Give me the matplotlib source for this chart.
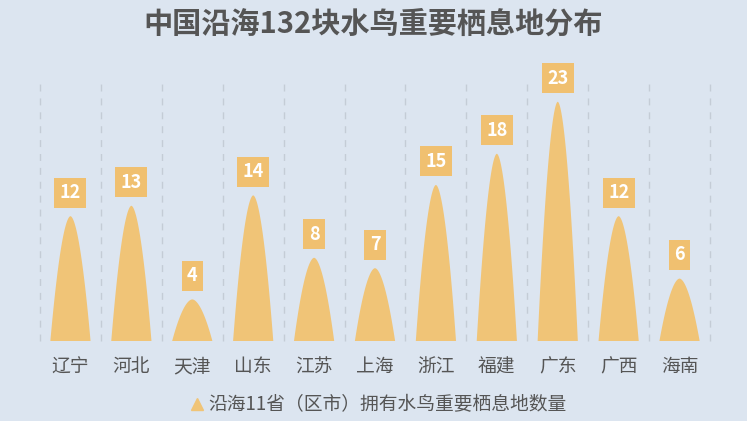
import matplotlib.pyplot as plt
import numpy as np
from matplotlib.lines import Line2D

plt.rcParams['font.family'] = ['Noto Sans CJK SC', 'DejaVu Sans']

provinces = ['辽宁', '河北', '天津', '山东', '江苏', '上海', '浙江', '福建', '广东', '广西', '海南']
counts = [12, 13, 4, 14, 8, 7, 15, 18, 23, 12, 6]

bg = '#dce5f0'
bar_color = '#f0c477'

fig = plt.figure(figsize=(7.47, 4.21), dpi=100, facecolor=bg)
ax = fig.add_axes([40 / 747, 80 / 421, 670 / 747, 260 / 421])
ax.set_facecolor(bg)

# peak shaped bars
half = 0.33
u = np.linspace(-1, 1, 200)
for i, v in enumerate(counts):
    xs = i + u * half
    ys = v * (1 - np.abs(u) ** 1.8)
    ax.fill(xs, ys, color=bar_color, lw=0)
    ax.annotate(str(v), (i, v), xytext=(0, 17), textcoords='offset points',
                ha='center', va='center', color='white', fontsize=13, fontweight='bold',
                bbox=dict(boxstyle='square,pad=0.3', fc='#f0c070', ec='none'))

for b in np.arange(-0.5, len(counts), 1):
    ax.axvline(b, color='#c4ccd6', ls=(0, (5, 5)), lw=1, ymax=0.99, clip_on=False)

ax.set_xlim(-0.5, len(counts) - 0.5)
ax.set_ylim(0, 25)
ax.set_xticks(range(len(provinces)))
ax.set_xticklabels(provinces, fontsize=13.5, color='#555555')
ax.tick_params(axis='x', length=0, pad=11)
ax.set_yticks([])
for s in ax.spines.values():
    s.set_visible(False)

fig.text(0.5, 0.945, '中国沿海132块水鸟重要栖息地分布', ha='center', va='center',
         fontsize=21, fontweight='bold', color='#555555')

handle = Line2D([], [], marker='^', color=bar_color, ls='none', markersize=8)
fig.legend([handle], ['沿海11省（区市）拥有水鸟重要栖息地数量'], loc='center',
           bbox_to_anchor=(0.505, 0.038), frameon=False, fontsize=13.5,
           labelcolor='#555555', handletextpad=0.1, handlelength=1.0)

fig.savefig('out.png', dpi=100, facecolor=bg)
